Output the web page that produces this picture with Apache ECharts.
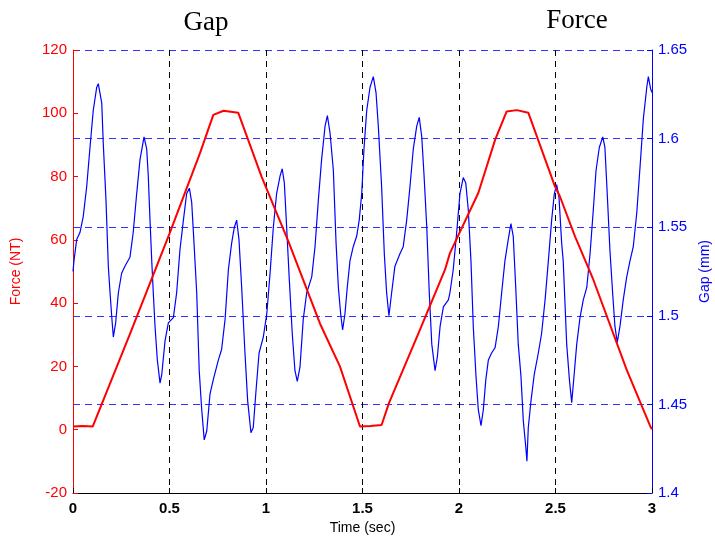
<!DOCTYPE html>
<html>
<head>
<meta charset="utf-8">
<script src="https://cdn.jsdelivr.net/npm/echarts@6/dist/echarts.min.js"></script>
<style>html,body{margin:0;padding:0;background:#fff;overflow:hidden}#c{width:715px;height:540px}</style>
</head>
<body>
<div id="c"></div>
<script>
// Time ticks (sec)
const timeTicks = [0, 0.5, 1, 1.5, 2, 2.5, 3];
const forceTicks = [-20, 0, 20, 40, 60, 80, 100, 120];
const gapTicks = ['1.4', '1.45', '1.5', '1.55', '1.6', '1.65'];

// Force (NT) vs time
const forceTime = [0, 0.05, 0.102, 0.30, 0.50, 0.658, 0.727, 0.78, 0.856, 0.977, 1.116, 1.28, 1.383, 1.487, 1.54, 1.599, 1.637, 1.798, 1.927, 1.953, 2.10, 2.187, 2.247, 2.30, 2.359, 2.497, 2.523, 2.601, 2.696, 2.869, 2.993, 3.0];
const forceVal  = [1.0, 1.2, 1.0, 31, 62, 87.4, 99.5, 100.8, 100.2, 80, 59.5, 33.5, 20, 1.0, 1.2, 1.5, 8.4, 31.6, 50.5, 55.8, 74.8, 91.6, 100.6, 101, 100.2, 76.9, 73.7, 61.1, 47.4, 18.9, 0.8, 0.2];

// Gap (mm) vs time
const gapTime = [0, 0.005, 0.019, 0.036, 0.053, 0.071, 0.088, 0.105, 0.123, 0.131, 0.149, 0.157, 0.171, 0.183, 0.192, 0.201, 0.209, 0.221, 0.235, 0.252, 0.269, 0.295, 0.312, 0.330, 0.347, 0.368, 0.382, 0.390, 0.399, 0.408, 0.416, 0.425, 0.437, 0.451, 0.460, 0.477, 0.494, 0.520, 0.537, 0.554, 0.572, 0.589, 0.603, 0.615, 0.627, 0.641, 0.654, 0.667, 0.680, 0.693, 0.710, 0.727, 0.753, 0.770, 0.788, 0.805, 0.822, 0.836, 0.848, 0.860, 0.874, 0.891, 0.905, 0.922, 0.934, 0.947, 0.964, 0.986, 1.004, 1.021, 1.038, 1.055, 1.073, 1.084, 1.095, 1.107, 1.121, 1.136, 1.150, 1.162, 1.176, 1.193, 1.211, 1.237, 1.254, 1.271, 1.288, 1.306, 1.318, 1.332, 1.349, 1.363, 1.375, 1.387, 1.397, 1.409, 1.421, 1.435, 1.452, 1.470, 1.483, 1.496, 1.508, 1.522, 1.539, 1.556, 1.570, 1.582, 1.599, 1.613, 1.625, 1.637, 1.651, 1.668, 1.694, 1.711, 1.729, 1.746, 1.763, 1.781, 1.794, 1.807, 1.819, 1.833, 1.846, 1.859, 1.876, 1.888, 1.902, 1.919, 1.945, 1.953, 1.970, 1.988, 2.005, 2.022, 2.035, 2.048, 2.062, 2.074, 2.088, 2.100, 2.114, 2.126, 2.139, 2.152, 2.169, 2.187, 2.204, 2.221, 2.238, 2.255, 2.269, 2.281, 2.294, 2.307, 2.321, 2.333, 2.346, 2.352, 2.359, 2.373, 2.390, 2.411, 2.428, 2.446, 2.463, 2.480, 2.494, 2.506, 2.518, 2.532, 2.540, 2.558, 2.572, 2.584, 2.596, 2.610, 2.627, 2.644, 2.662, 2.679, 2.696, 2.710, 2.727, 2.745, 2.756, 2.768, 2.782, 2.796, 2.808, 2.820, 2.834, 2.851, 2.869, 2.886, 2.903, 2.921, 2.938, 2.955, 2.973, 2.981, 2.993, 3.000];
const gapVal = [1.525, 1.531, 1.543, 1.547, 1.556, 1.573, 1.595, 1.616, 1.629, 1.631, 1.620, 1.597, 1.565, 1.528, 1.513, 1.499, 1.488, 1.496, 1.513, 1.524, 1.528, 1.533, 1.547, 1.569, 1.588, 1.601, 1.594, 1.579, 1.554, 1.531, 1.513, 1.494, 1.475, 1.462, 1.467, 1.486, 1.496, 1.499, 1.513, 1.537, 1.554, 1.569, 1.572, 1.564, 1.541, 1.513, 1.469, 1.447, 1.430, 1.435, 1.456, 1.464, 1.475, 1.481, 1.498, 1.526, 1.541, 1.550, 1.554, 1.543, 1.516, 1.479, 1.452, 1.434, 1.437, 1.456, 1.479, 1.488, 1.501, 1.524, 1.550, 1.569, 1.579, 1.583, 1.575, 1.550, 1.520, 1.490, 1.469, 1.463, 1.471, 1.498, 1.513, 1.522, 1.539, 1.565, 1.588, 1.607, 1.613, 1.603, 1.582, 1.541, 1.516, 1.501, 1.492, 1.501, 1.516, 1.531, 1.539, 1.545, 1.554, 1.569, 1.595, 1.616, 1.629, 1.635, 1.626, 1.607, 1.573, 1.535, 1.513, 1.500, 1.513, 1.528, 1.535, 1.539, 1.554, 1.573, 1.594, 1.607, 1.612, 1.601, 1.579, 1.550, 1.513, 1.484, 1.469, 1.477, 1.494, 1.505, 1.509, 1.513, 1.526, 1.547, 1.569, 1.578, 1.575, 1.560, 1.531, 1.494, 1.466, 1.447, 1.438, 1.447, 1.464, 1.475, 1.479, 1.482, 1.494, 1.513, 1.531, 1.543, 1.552, 1.545, 1.516, 1.484, 1.466, 1.441, 1.426, 1.418, 1.437, 1.452, 1.467, 1.479, 1.490, 1.509, 1.531, 1.554, 1.569, 1.574, 1.567, 1.541, 1.531, 1.484, 1.464, 1.451, 1.466, 1.484, 1.499, 1.509, 1.516, 1.535, 1.560, 1.582, 1.595, 1.601, 1.595, 1.569, 1.537, 1.513, 1.494, 1.485, 1.494, 1.509, 1.522, 1.531, 1.539, 1.558, 1.584, 1.611, 1.629, 1.635, 1.628, 1.626];

const forceData = forceTime.map((t, i) => [t, forceVal[i]]);
const gapData = gapTime.map((t, i) => [t, gapVal[i]]);

const chart = echarts.init(document.getElementById('c'), null, {renderer: 'canvas'});
const sans = 'Liberation Sans, Arial, sans-serif';
const serif = 'Liberation Serif, Times New Roman, serif';
chart.setOption({
  animation: false,
  backgroundColor: '#fff',
  title: [
    {text: 'Gap', left: 201, top: 4, textAlign: 'center', textStyle: {fontFamily: serif, fontSize: 27, fontWeight: 'normal', color: '#000'}},
    {text: 'Force', left: 572, top: 2, textAlign: 'center', textStyle: {fontFamily: serif, fontSize: 27, fontWeight: 'normal', color: '#000'}}
  ],
  grid: {left: 73, right: 63, top: 50, bottom: 47, containLabel: false, outerBoundsMode: 'none'},
  xAxis: {
    type: 'value', min: 0, max: 3, interval: 0.5,
    name: 'Time (sec)', nameLocation: 'middle', nameGap: 28,
    nameTextStyle: {fontFamily: sans, fontSize: 14, color: '#000'},
    axisLine: {onZero: false, lineStyle: {color: '#000', width: 1}},
    axisTick: {inside: true, length: 5, lineStyle: {color: '#000'}},
    axisLabel: {fontFamily: sans, fontSize: 15, fontWeight: 'bold', color: '#000', margin: 8,
      formatter: v => String(timeTicks.find(t => Math.abs(t - v) < 1e-6) ?? v)},
    splitLine: {show: true, lineStyle: {color: '#000', type: [6, 5], width: 1}}
  },
  yAxis: [
    {
      type: 'value', min: -20, max: 120, interval: 20, position: 'left',
      name: 'Force (NT)', nameLocation: 'middle', nameGap: 50, nameRotate: 90,
      nameTextStyle: {fontFamily: sans, fontSize: 14, color: '#ff0000'},
      axisLine: {show: true, onZero: false, lineStyle: {color: '#ff0000', width: 1}},
      axisTick: {show: true, inside: true, length: 5, lineStyle: {color: '#ff0000'}},
      axisLabel: {fontFamily: sans, fontSize: 15, color: '#ff0000', margin: 6,
        formatter: v => String(forceTicks.find(t => Math.abs(t - v) < 1e-6) ?? v)},
      splitLine: {show: false}
    },
    {
      type: 'value', min: 1.4, max: 1.65, interval: 0.05, position: 'right',
      name: 'Gap (mm)', nameLocation: 'middle', nameGap: 45, nameRotate: 90,
      nameTextStyle: {fontFamily: sans, fontSize: 14, color: '#0000ff'},
      axisLine: {show: true, onZero: false, lineStyle: {color: '#0000ff', width: 1}},
      axisTick: {show: true, inside: true, length: 5, lineStyle: {color: '#0000ff'}},
      axisLabel: {fontFamily: sans, fontSize: 15, color: '#0000ff', margin: 6,
        formatter: v => gapTicks.find(t => Math.abs(parseFloat(t) - v) < 1e-6) ?? v.toFixed(2)},
      splitLine: {show: true, lineStyle: {color: '#0000ff', type: [7, 5], width: 1, opacity: 0.8}}
    }
  ],
  series: [
    {type: 'line', name: 'Gap', yAxisIndex: 1, data: gapData, showSymbol: false, symbol: 'none',
      lineStyle: {color: '#0000ff', width: 1.2}, z: 3},
    {type: 'line', name: 'Force', yAxisIndex: 0, data: forceData, showSymbol: false, symbol: 'none',
      lineStyle: {color: '#ff0000', width: 2}, z: 4}
  ]
});
</script>
</body>
</html>
